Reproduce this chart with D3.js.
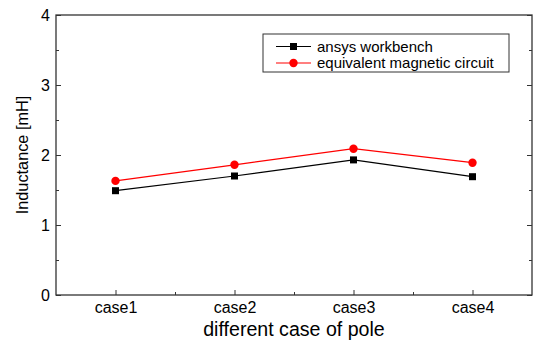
<!DOCTYPE html>
<html>
<head>
<meta charset="utf-8">
<script src="https://cdn.jsdelivr.net/npm/d3@7"></script>
<style>
  body { margin: 0; background: #fff; }
  svg { display: block; font-family: "Liberation Sans", Arial, sans-serif; }
</style>
</head>
<body>
<svg id="chart" width="534" height="346"></svg>
<script>
const categories = ["case1", "case2", "case3", "case4"];
const ansysValues = [1.49, 1.70, 1.93, 1.69];
const emcValues = [1.63, 1.86, 2.09, 1.89];
const yTicks = [0, 1, 2, 3, 4];
const yMinorTicks = [0.5, 1.5, 2.5, 3.5];

const margins = { left: 56, right: 2, top: 15, bottom: 51 };
const svgElement = document.getElementById("chart");
const svg = d3.select(svgElement);
const width = 534 - margins.left - margins.right;
const height = 346 - margins.top - margins.bottom;
const g = svg.append("g").attr("transform", `translate(${margins.left}, ${margins.top})`);

// scales
const x = d3.scaleLinear().domain([0.5, 4.5]).range([0, width]);
const y = d3.scaleLinear().domain([0, 4]).range([height, 0]);
const axisColor = "#333";

// frame
g.append("rect")
  .attr("width", width)
  .attr("height", height)
  .attr("fill", "none")
  .attr("stroke", axisColor)
  .attr("stroke-width", 1.3);

// left axis, ticks pointing inside
const yAxis = g.append("g")
  .call(d3.axisLeft(y).tickValues(yTicks).tickSize(-5).tickPadding(6).tickFormat(d3.format("d")));
yAxis.select(".domain").remove();
yAxis.selectAll("line").attr("stroke", axisColor);
yAxis.selectAll("text").attr("font-size", 16).attr("fill", "#000").attr("font-family", "Liberation Sans, Arial, sans-serif");
const yMinor = g.append("g").call(d3.axisLeft(y).tickValues(yMinorTicks).tickSize(-3).tickFormat(""));
yMinor.select(".domain").remove();
yMinor.selectAll("line").attr("stroke", axisColor);

// right mirrored ticks
const yRight = g.append("g").attr("transform", `translate(${width},0)`)
  .call(d3.axisRight(y).tickValues(yTicks).tickSize(-5).tickFormat(""));
yRight.select(".domain").remove();
yRight.selectAll("line").attr("stroke", axisColor);
const yRightMinor = g.append("g").attr("transform", `translate(${width},0)`)
  .call(d3.axisRight(y).tickValues(yMinorTicks).tickSize(-3).tickFormat(""));
yRightMinor.select(".domain").remove();
yRightMinor.selectAll("line").attr("stroke", axisColor);

// bottom axis
const xAxis = g.append("g").attr("transform", `translate(0, ${height})`)
  .call(d3.axisBottom(x).tickValues([1, 2, 3, 4]).tickSize(-5).tickPadding(7)
    .tickFormat((d) => categories[d - 1]));
xAxis.select(".domain").remove();
xAxis.selectAll("line").attr("stroke", axisColor);
xAxis.selectAll("text").attr("font-size", 16).attr("fill", "#000").attr("font-family", "Liberation Sans, Arial, sans-serif");
const xMinor = g.append("g").attr("transform", `translate(0, ${height})`)
  .call(d3.axisBottom(x).tickValues([1.5, 2.5, 3.5]).tickSize(-3).tickFormat(""));
xMinor.select(".domain").remove();
xMinor.selectAll("line").attr("stroke", axisColor);

// axis titles
svg.append("text")
  .attr("x", margins.left + width / 2)
  .attr("y", 336)
  .attr("text-anchor", "middle")
  .attr("font-size", 19.6)
  .text("different case of pole");
svg.append("text")
  .attr("transform", `translate(28, ${margins.top + height / 2}) rotate(-90)`)
  .attr("text-anchor", "middle")
  .attr("font-size", 16.3)
  .text("Inductance [mH]");

// lines
const series = [
  { name: "ansys workbench", values: ansysValues, color: "#000", shape: "square" },
  { name: "equivalent magnetic circuit", values: emcValues, color: "#ff0000", shape: "circle" }
];

const valueLine = d3.line()
  .x((d, i) => x(i + 1))
  .y((d) => y(d));

const drawMarker = (sel, s, cx, cy) => {
  if (s.shape === "square") {
    sel.append("rect")
      .attr("x", cx - 3.5).attr("y", cy - 3.5)
      .attr("width", 7).attr("height", 7)
      .attr("fill", s.color);
  } else {
    sel.append("circle")
      .attr("cx", cx).attr("cy", cy).attr("r", 4.2)
      .attr("fill", s.color);
  }
};

series.forEach((s) => {
  g.append("path")
    .datum(s.values)
    .attr("fill", "none")
    .attr("stroke", s.color)
    .attr("stroke-width", 1.2)
    .attr("d", valueLine);
  s.values.forEach((v, i) => drawMarker(g, s, x(i + 1), y(v)));
});

// legend
const legend = svg.append("g").attr("transform", "translate(263, 34)");
legend.append("rect")
  .attr("width", 246)
  .attr("height", 38)
  .attr("fill", "#fff")
  .attr("stroke", axisColor)
  .attr("stroke-width", 1);
series.forEach((s, i) => {
  const ly = 12.5 + i * 16.5;
  legend.append("line")
    .attr("x1", 13).attr("x2", 48)
    .attr("y1", ly).attr("y2", ly)
    .attr("stroke", s.color)
    .attr("stroke-width", 1.2);
  drawMarker(legend, s, 30.5, ly);
  legend.append("text")
    .attr("x", 54)
    .attr("y", ly + 5)
    .attr("font-size", 15)
    .text(s.name);
});
</script>
</body>
</html>
